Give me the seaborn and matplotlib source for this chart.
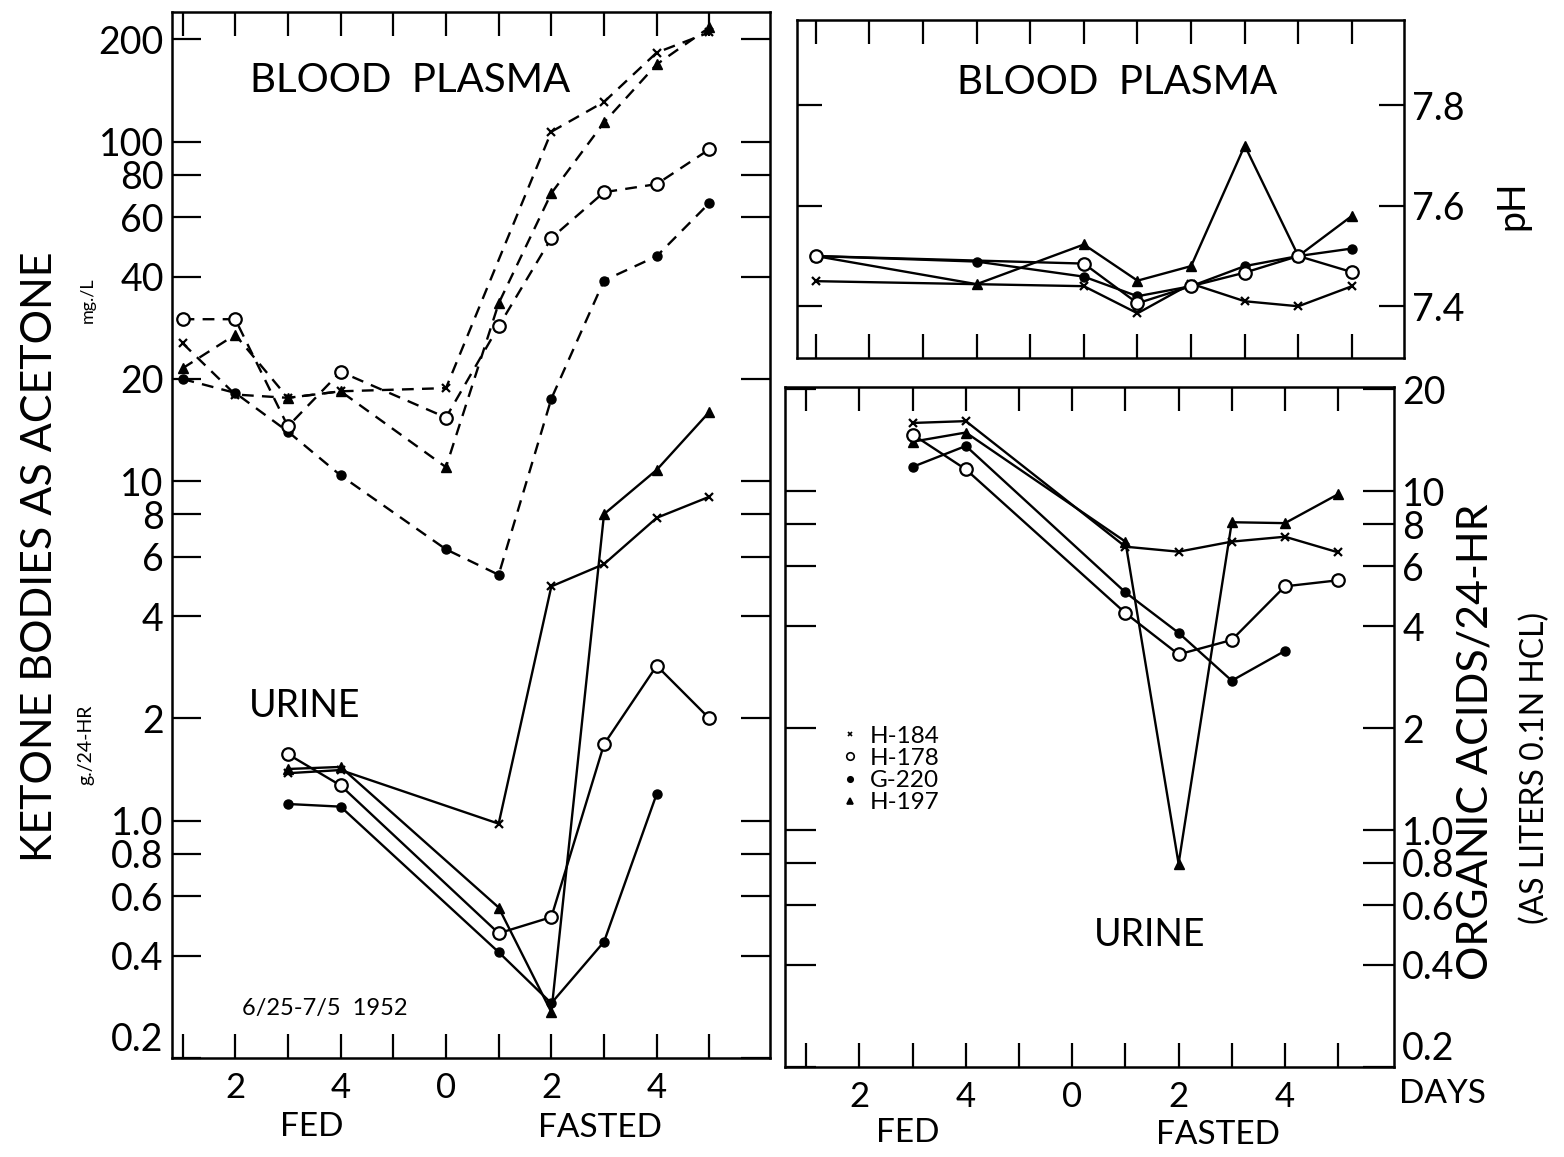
import matplotlib
matplotlib.use("Agg")
import matplotlib.pyplot as plt
from matplotlib.ticker import FixedLocator, FixedFormatter, NullLocator
from matplotlib.lines import Line2D
import pandas as pd
import seaborn as sns

# ---------------- data ----------------
# day coordinate: FED day d -> d-6 (fed 1..5 = -5..-1), FASTED day d -> d (0..5)
day_ticks = [-5, -4, -3, -2, -1, 0, 1, 2, 3, 4, 5]
day_tick_labels = ["", "2", "", "4", "", "0", "", "2", "", "4", ""]

# Blood plasma ketone bodies (mg./L), dashed
plasma_h184_days = [-5, -4, -3, -2, 0, 2, 3, 4, 5]
plasma_h184_vals = [25.5, 18, 17.6, 18.4, 18.8, 107, 131, 183, 210]
plasma_h178_days = [-5, -4, -3, -2, 0, 1, 2, 3, 4, 5]
plasma_h178_vals = [30, 30, 14.5, 21, 15.4, 28.6, 52, 71, 75, 95]
plasma_g220_days = [-5, -4, -3, -2, 0, 1, 2, 3, 4, 5]
plasma_g220_vals = [20, 18.2, 14, 10.4, 6.3, 5.3, 17.5, 39, 46, 66]
plasma_h197_days = [-5, -4, -3, -2, 0, 1, 2, 3, 4, 5]
plasma_h197_vals = [21.5, 27, 17.6, 18.4, 11, 33.4, 70.5, 114, 169, 217]

# Urine ketone bodies (g./24-HR), solid
urine_h184_days = [-3, -2, 1, 2, 3, 4, 5]
urine_h184_vals = [1.38, 1.41, 0.98, 4.9, 5.7, 7.8, 9.0]
urine_h178_days = [-3, -2, 1, 2, 3, 4, 5]
urine_h178_vals = [1.57, 1.27, 0.466, 0.52, 1.68, 2.86, 2.0]
urine_g220_days = [-3, -2, 1, 2, 3, 4]
urine_g220_vals = [1.12, 1.10, 0.41, 0.29, 0.44, 1.2]
urine_h197_days = [-3, -2, 1, 2, 3, 4, 5]
urine_h197_vals = [1.42, 1.44, 0.555, 0.273, 8.0, 10.8, 16.0]

# Blood plasma pH
ph_h184_days = [-5, 0, 1, 2, 3, 4, 5]
ph_h184_vals = [7.45, 7.44, 7.386, 7.445, 7.41, 7.40, 7.44]
ph_h178_days = [-5, 0, 1, 2, 3, 4, 5]
ph_h178_vals = [7.50, 7.485, 7.406, 7.44, 7.467, 7.50, 7.468]
ph_g220_days = [-5, -2, 0, 1, 2, 3, 4, 5]
ph_g220_vals = [7.50, 7.489, 7.459, 7.42, 7.44, 7.48, 7.50, 7.515]
ph_h197_days = [-5, -2, 0, 1, 2, 3, 4, 5]
ph_h197_vals = [7.50, 7.444, 7.523, 7.451, 7.48, 7.72, 7.50, 7.58]

# Urine organic acids (liters 0.1N HCl / 24-HR)
acid_h184_days = [-3, -2, 1, 2, 3, 4, 5]
acid_h184_vals = [15.9, 16.1, 6.86, 6.63, 7.1, 7.34, 6.6]
acid_h178_days = [-3, -2, 1, 2, 3, 4, 5]
acid_h178_vals = [14.7, 11.6, 4.37, 3.3, 3.64, 5.24, 5.46]
acid_g220_days = [-3, -2, 1, 2, 3, 4]
acid_g220_vals = [11.8, 13.6, 5.03, 3.82, 2.76, 3.38]
acid_h197_days = [-3, -2, 1, 2, 3, 4, 5]
acid_h197_vals = [14.0, 14.9, 7.1, 0.796, 8.1, 8.05, 9.8]

ketone_ticks = [0.2, 0.4, 0.6, 0.8, 1, 2, 4, 6, 8, 10, 20, 40, 60, 80, 100, 200]
ketone_tick_labels = ["0.2", "0.4", "0.6", "0.8", "1.0", "2", "4", "6", "8",
                      "10", "20", "40", "60", "80", "100", "200"]
ph_ticks = [7.4, 7.6, 7.8]
ph_tick_labels = ["7.4", "7.6", "7.8"]
acid_ticks = [0.2, 0.4, 0.6, 0.8, 1, 2, 4, 6, 8, 10, 20]
acid_tick_labels = ["0.2", "0.4", "0.6", "0.8", "1.0", "2", "4", "6", "8", "10", "20"]

subjects = ["H-184", "H-178", "G-220", "H-197"]

# ---------------- styles ----------------
STYLE = {
    "H-184": dict(marker="x", ms=6, mfc="black", mew=1.6, z=4),
    "H-178": dict(marker="o", ms=9, mfc="white", mew=1.6, z=6),
    "G-220": dict(marker="o", ms=6.5, mfc="black", mew=1.0, z=5),
    "H-197": dict(marker="^", ms=6.5, mfc="black", mew=1.0, z=3),
}

sns.set_theme(style="ticks")
plt.rcParams["font.family"] = ["Lato", "DejaVu Sans"]
plt.rcParams["font.weight"] = "normal"
plt.rcParams["axes.linewidth"] = 1.8
plt.rcParams["axes.edgecolor"] = "black"
plt.rcParams["xtick.color"] = "black"
plt.rcParams["ytick.color"] = "black"
plt.rcParams["xtick.labelcolor"] = "black"
plt.rcParams["ytick.labelcolor"] = "black"
plt.rcParams["text.color"] = "black"

W, H = 1564, 1157
fig = plt.figure(figsize=(W / 100, H / 100), dpi=100)
fig.patch.set_facecolor("white")


def box(l, t, r, b):
    return [l / W, 1 - b / H, (r - l) / W, (b - t) / H]


def draw(ax, days, vals, subj, dashed):
    st = STYLE[subj]
    df = pd.DataFrame({"day": days, "value": vals})
    sns.lineplot(data=df, x="day", y="value", ax=ax, color="black",
                 estimator=None, sort=False, linewidth=1.7,
                 linestyle=(0, (5, 3.5)) if dashed else "-",
                 marker=st["marker"], markersize=st["ms"],
                 markerfacecolor=st["mfc"], markeredgecolor="black",
                 markeredgewidth=st["mew"], zorder=st["z"])


def style_x(ax, labels):
    ax.xaxis.set_major_locator(FixedLocator(day_ticks))
    ax.xaxis.set_major_formatter(FixedFormatter(labels))
    ax.xaxis.set_minor_locator(NullLocator())
    ax.tick_params(axis="x", which="major", direction="in", length=17, width=1.6,
                   top=True, bottom=True, labelsize=25, pad=10)
    ax.set_xlabel("")
    ax.set_ylabel("")
    ax.grid(False)


# ---------------- left panel: ketone bodies ----------------
axL = fig.add_axes(box(172, 12, 770, 1058))
for s, d, v in zip(subjects,
                   [plasma_h184_days, plasma_h178_days, plasma_g220_days, plasma_h197_days],
                   [plasma_h184_vals, plasma_h178_vals, plasma_g220_vals, plasma_h197_vals]):
    draw(axL, d, v, s, True)
for s, d, v in zip(subjects,
                   [urine_h184_days, urine_h178_days, urine_g220_days, urine_h197_days],
                   [urine_h184_vals, urine_h178_vals, urine_g220_vals, urine_h197_vals]):
    draw(axL, d, v, s, False)
axL.set_yscale("log")
axL.set_ylim(0.2, 241)
axL.set_xlim(-5.2, 6.15)
axL.yaxis.set_major_locator(FixedLocator(ketone_ticks))
axL.yaxis.set_major_formatter(FixedFormatter(ketone_tick_labels))
axL.yaxis.set_minor_locator(NullLocator())
axL.tick_params(axis="y", which="major", direction="in", length=21, width=1.6,
                left=True, right=True, labelsize=27, pad=6)
style_x(axL, day_tick_labels)

# ---------------- top right: pH ----------------
axP = fig.add_axes(box(797, 20, 1404, 358))
for s, d, v in zip(subjects,
                   [ph_h184_days, ph_h178_days, ph_g220_days, ph_h197_days],
                   [ph_h184_vals, ph_h178_vals, ph_g220_vals, ph_h197_vals]):
    draw(axP, d, v, s, False)
axP.set_ylim(7.297, 7.97)
axP.set_xlim(-5.35, 5.97)
axP.yaxis.set_major_locator(FixedLocator(ph_ticks))
axP.yaxis.set_major_formatter(FixedFormatter(ph_tick_labels))
axP.tick_params(axis="y", which="major", direction="in", length=18, width=1.6,
                left=True, right=True, labelleft=False, labelright=True,
                labelsize=27, pad=6)
style_x(axP, [""] * len(day_ticks))

# ---------------- bottom right: organic acids ----------------
axA = fig.add_axes(box(785, 387, 1394, 1067))
for s, d, v in zip(subjects,
                   [acid_h184_days, acid_h178_days, acid_g220_days, acid_h197_days],
                   [acid_h184_vals, acid_h178_vals, acid_g220_vals, acid_h197_vals]):
    draw(axA, d, v, s, False)
axA.set_yscale("log")
axA.set_ylim(0.2, 20.3)
axA.set_xlim(-5.4, 6.05)
axA.yaxis.set_major_locator(FixedLocator(acid_ticks))
axA.yaxis.set_major_formatter(FixedFormatter(acid_tick_labels))
axA.yaxis.set_minor_locator(NullLocator())
axA.tick_params(axis="y", which="major", direction="in", length=22, width=1.6,
                left=True, right=True, labelleft=False, labelright=True,
                labelsize=27, pad=6)
style_x(axA, day_tick_labels)

# lift the 0.2 labels so they sit above the bottom spine, as in the original
for ax in (axL, axA):
    fig.canvas.draw()
    for tk in ax.yaxis.get_major_ticks():
        if tk.label1.get_text() == "0.2":
            tk.label1.set_verticalalignment("bottom")
        if tk.label2.get_text() == "0.2":
            tk.label2.set_verticalalignment("bottom")

handles = [Line2D([], [], color="black", linestyle="none", marker=STYLE[s]["marker"],
                  markersize=STYLE[s]["ms"] * 0.6, markerfacecolor=STYLE[s]["mfc"],
                  markeredgecolor="black", markeredgewidth=1.2) for s in subjects]
axA.legend(handles, subjects, loc="upper left", bbox_to_anchor=(0.075, 0.52),
           frameon=False, fontsize=17.5, handlelength=0.6, handletextpad=0.5,
           labelspacing=0.05, borderpad=0)

# ---------------- text ----------------
def ftext(px, py, s, size, rot=0, **kw):
    fig.text(px / W, 1 - py / H, s, fontsize=size, rotation=rot,
             ha="center", va="center", **kw)

ftext(410, 80, "BLOOD  PLASMA", 29)
ftext(305, 706, "URINE", 27)
ftext(325, 1008, "6/25-7/5  1952", 17)
ftext(40, 557, "KETONE BODIES AS ACETONE", 31, rot=90)
ftext(88, 300, "mg./L", 13, rot=90)
ftext(86, 745, "g./24-HR", 14, rot=90)
ftext(312, 1127, "FED", 24)
ftext(600, 1128, "FASTED", 24)

ftext(1117, 82, "BLOOD  PLASMA", 29)
ftext(1512, 205, "pH", 27, rot=90)
ftext(1150, 935, "URINE", 27)
ftext(1442, 1094, "DAYS", 24)
ftext(1475, 742, "ORGANIC ACIDS/24-HR", 31, rot=90)
ftext(1535, 768, "(AS LITERS 0.1N HCL)", 23, rot=90)
ftext(908, 1133, "FED", 24)
ftext(1218, 1135, "FASTED", 24)

fig.savefig("out.png", dpi=100, facecolor="white")
